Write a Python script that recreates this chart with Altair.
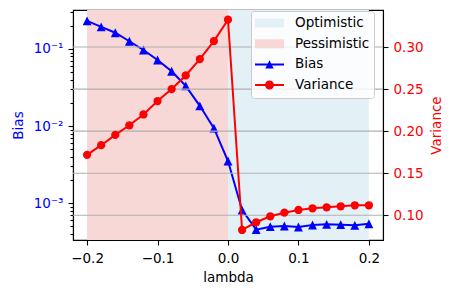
import altair as alt
import pandas as pd

# ---------------- data ----------------
lam = [-0.20, -0.18, -0.16, -0.14, -0.12, -0.10, -0.08, -0.06, -0.04, -0.02, 0.00,
       0.02, 0.04, 0.06, 0.08, 0.10, 0.12, 0.14, 0.16, 0.18, 0.20]
bias = [0.232, 0.194, 0.1625, 0.126, 0.097, 0.072, 0.0514, 0.0332, 0.0183, 0.0094, 0.00352,
        0.00081, 0.000452, 0.000494, 0.000505, 0.00049, 0.00052, 0.00053, 0.000525, 0.000515, 0.00054]
variance = [0.1718, 0.1833, 0.1955, 0.2070, 0.2198, 0.2357, 0.2500, 0.2662, 0.2857, 0.3071, 0.3325,
            0.0825, 0.0917, 0.0988, 0.1031, 0.1063, 0.1083, 0.1095, 0.1107, 0.1119, 0.1119]

region_names = ["Pessimistic", "Optimistic"]
region_start = [-0.2, 0.0]
region_end = [0.0, 0.2]

legend_labels = ["Optimistic", "Pessimistic", "Bias", "Variance"]

x_ticks = [-0.2, -0.1, 0.0, 0.1, 0.2]
bias_major_ticks = [0.001, 0.01, 0.1]
bias_major_labels = ["10⁻³", "10⁻²", "10⁻¹"]
bias_minor_ticks = [0.0004, 0.0005, 0.0006, 0.0007, 0.0008, 0.0009,
                    0.002, 0.003, 0.004, 0.005, 0.006, 0.007, 0.008, 0.009,
                    0.02, 0.03, 0.04, 0.05, 0.06, 0.07, 0.08, 0.09,
                    0.2, 0.3]
var_ticks = [0.10, 0.15, 0.20, 0.25, 0.30]

# ---------------- styles ----------------
BLUE = "#0000ff"
RED = "#ff0000"
C_OPT = "#e3f1f7"
C_PES = "#f8d7d7"
GRID = "#b0b0b0"
FONT = "DejaVu Sans"
FS = 13.5

TRI_PATH = "M0,-1L1,1L-1,1Z"
LEG_PATCH = "M-1,-0.31L1,-0.31L1,0.31L-1,0.31Z"
LEG_TRI = "M-1,-0.07L1,-0.07L1,0.07L-1,0.07Z M0,-0.29L0.29,0.29L-0.29,0.29Z"
LEG_CIRC = ("M-1,-0.07L1,-0.07L1,0.07L-1,0.07Z "
            "M0.31,0A0.31,0.31,0,1,1,-0.31,0A0.31,0.31,0,1,1,0.31,0Z")

df = pd.DataFrame({"lam": lam, "bias": bias, "variance": variance})
span_df = pd.DataFrame({"region": region_names, "start": region_start, "end": region_end})
grid_df = pd.DataFrame({"variance": var_ticks})
leg_df = pd.DataFrame({"label": legend_labels})

# ---------------- scales / axes ----------------
xscale = alt.Scale(domain=[-0.22, 0.22], nice=False, zero=False)
xaxis = alt.Axis(values=x_ticks, format=".1f", title="lambda", grid=False,
                 tickSize=5, labelPadding=6, titlePadding=6)

major_test = " || ".join(f"abs(datum.value - {v}) < {v * 1e-3}" for v in bias_major_ticks)
label_expr = "".join(
    f"abs(datum.value - {v}) < {v * 1e-3} ? '{lab}' : "
    for v, lab in zip(bias_major_ticks, bias_major_labels)
) + "''"

bias_scale = alt.Scale(type="log", domain=[3.32e-4, 0.3206], nice=False)
bias_axis = alt.Axis(orient="left", values=bias_major_ticks + bias_minor_ticks,
                     labelExpr=label_expr,
                     tickSize={"condition": {"test": major_test, "value": 5}, "value": 3},
                     labelPadding=5, labelColor=BLUE, title="Bias", titleColor=BLUE,
                     titlePadding=8, grid=False)

var_scale = alt.Scale(domain=[0.0706, 0.344], nice=False, zero=False)
var_axis = alt.Axis(orient="right", values=var_ticks, format=".2f", labelColor=RED,
                    title="Variance", titleColor=RED, titleAngle=270, titleBaseline="top",
                    titlePadding=6, tickSize=5, labelPadding=5, grid=False)

X = alt.X("lam:Q", scale=xscale, axis=xaxis)
VY = alt.Y("variance:Q", scale=var_scale, axis=var_axis)
BY = alt.Y("bias:Q", scale=bias_scale, axis=bias_axis)

# ---------------- layers ----------------
spans = alt.Chart(span_df).mark_rect().encode(
    x=alt.X("start:Q", scale=xscale, axis=xaxis),
    x2="end:Q",
    fill=alt.Fill("region:N", scale=alt.Scale(domain=region_names, range=[C_PES, C_OPT]),
                  legend=None),
)

bias_line = alt.Chart(df).mark_line(color=BLUE, strokeWidth=2).encode(x=X, y=BY)
bias_pts = alt.Chart(df).mark_point(shape=TRI_PATH, filled=True, size=78, color=BLUE,
                                    opacity=1).encode(x=X, y=BY)
bias_layer = alt.layer(bias_line, bias_pts)

grid_rules = alt.Chart(grid_df).mark_rule(color=GRID, strokeWidth=1.1).encode(y=VY)
var_line = alt.Chart(df).mark_line(color=RED, strokeWidth=2).encode(x=X, y=VY)
var_pts = alt.Chart(df).mark_point(shape="circle", filled=True, size=68, color=RED,
                                   opacity=1).encode(x=X, y=VY)
var_layer = alt.layer(grid_rules, var_line, var_pts)

legend_layer = alt.Chart(leg_df).transform_filter("false").mark_point(
    filled=True, opacity=1, strokeWidth=0).encode(
    color=alt.Color("label:N",
                    scale=alt.Scale(domain=legend_labels, range=[C_OPT, C_PES, BLUE, RED]),
                    legend=alt.Legend(title=None)),
    shape=alt.Shape("label:N",
                    scale=alt.Scale(domain=legend_labels,
                                    range=[LEG_PATCH, LEG_PATCH, LEG_TRI, LEG_CIRC]),
                    legend=alt.Legend(title=None)),
)

chart = alt.layer(spans, bias_layer, var_layer, legend_layer).resolve_scale(
    y="independent"
).properties(
    width=310, height=230,
    autosize=alt.AutoSizeParams(type="none"),
    padding={"left": 65, "top": 2, "right": 60, "bottom": 44},
).configure_view(
    stroke="black", strokeWidth=1.1
).configure_axis(
    domainColor="black", domainWidth=1.1, tickColor="black", tickWidth=1.1,
    labelFont=FONT, labelFontSize=FS, titleFont=FONT, titleFontSize=FS,
    titleFontWeight="normal", labelColor="black", titleColor="black",
).configure_legend(
    orient="none", legendX=178, legendY=1, padding=4,
    fillColor="rgba(255,255,255,0.8)", strokeColor="#cccccc", cornerRadius=3,
    labelFont=FONT, labelFontSize=FS, labelColor="black",
    symbolSize=841, clipHeight=16, rowPadding=4.7, labelOffset=11,
    symbolStrokeWidth=0, symbolOpacity=1,
)

chart.save("out.html", embed_options={"renderer": "svg", "actions": False})
